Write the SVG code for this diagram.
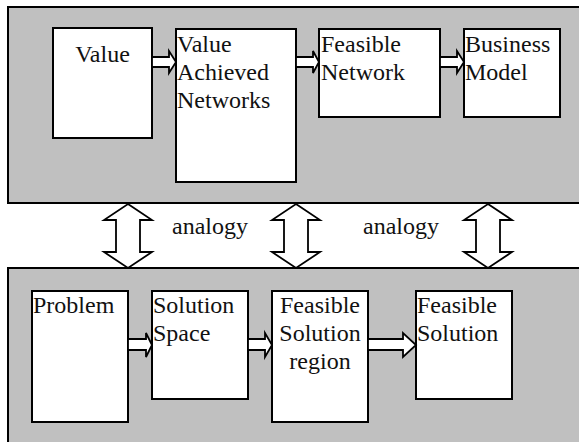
<svg xmlns="http://www.w3.org/2000/svg" width="579" height="442" viewBox="0 0 579 442">
  <rect width="579" height="442" fill="#fff"/>

  <!-- Upper band (business side) and lower band (problem-solving side) -->
  <g fill="#c0c0c0" stroke="#000" stroke-width="2">
    <rect x="8" y="7" width="580" height="196"/>
    <rect x="8" y="268" width="580" height="180"/>
  </g>

  <g id="value">
    <rect x="53" y="28" width="99" height="110" fill="#fff" stroke="#000" stroke-width="2"/>
    <text style="font-family: 'Liberation Serif', 'Times New Roman', serif !important; font-size: 24px; fill: #111" x="102.5" y="62" text-anchor="middle">Value</text>
  </g>
  <g id="value-achieved-networks">
    <rect x="176" y="29" width="120" height="153" fill="#fff" stroke="#000" stroke-width="2"/>
    <text style="font-family: 'Liberation Serif', 'Times New Roman', serif !important; font-size: 24px; fill: #111" x="177" y="52">Value</text>
    <text style="font-family: 'Liberation Serif', 'Times New Roman', serif !important; font-size: 24px; fill: #111" x="177" y="80">Achieved</text>
    <text style="font-family: 'Liberation Serif', 'Times New Roman', serif !important; font-size: 24px; fill: #111" x="177" y="108">Networks</text>
  </g>
  <g id="feasible-network">
    <rect x="319" y="29" width="121" height="88" fill="#fff" stroke="#000" stroke-width="2"/>
    <text style="font-family: 'Liberation Serif', 'Times New Roman', serif !important; font-size: 24px; fill: #111" x="321" y="52">Feasible</text>
    <text style="font-family: 'Liberation Serif', 'Times New Roman', serif !important; font-size: 24px; fill: #111" x="321" y="80">Network</text>
  </g>
  <g id="business-model">
    <rect x="464" y="29" width="96" height="88" fill="#fff" stroke="#000" stroke-width="2"/>
    <text style="font-family: 'Liberation Serif', 'Times New Roman', serif !important; font-size: 24px; fill: #111" x="465" y="52">Business</text>
    <text style="font-family: 'Liberation Serif', 'Times New Roman', serif !important; font-size: 24px; fill: #111" x="465" y="80">Model</text>
  </g>

  <g id="problem">
    <rect x="32" y="291" width="96" height="131" fill="#fff" stroke="#000" stroke-width="2"/>
    <text style="font-family: 'Liberation Serif', 'Times New Roman', serif !important; font-size: 24px; fill: #111" x="33" y="313">Problem</text>
  </g>
  <g id="solution-space">
    <rect x="152" y="291" width="96" height="108" fill="#fff" stroke="#000" stroke-width="2"/>
    <text style="font-family: 'Liberation Serif', 'Times New Roman', serif !important; font-size: 24px; fill: #111" x="153" y="313">Solution</text>
    <text style="font-family: 'Liberation Serif', 'Times New Roman', serif !important; font-size: 24px; fill: #111" x="153" y="341">Space</text>
  </g>
  <g id="feasible-solution-region">
    <rect x="272" y="291" width="96" height="131" fill="#fff" stroke="#000" stroke-width="2"/>
    <text style="font-family: 'Liberation Serif', 'Times New Roman', serif !important; font-size: 24px; fill: #111" x="320" y="313" text-anchor="middle">Feasible</text>
    <text style="font-family: 'Liberation Serif', 'Times New Roman', serif !important; font-size: 24px; fill: #111" x="320" y="341" text-anchor="middle">Solution</text>
    <text style="font-family: 'Liberation Serif', 'Times New Roman', serif !important; font-size: 24px; fill: #111" x="320" y="369" text-anchor="middle">region</text>
  </g>
  <g id="feasible-solution">
    <rect x="416" y="291" width="96" height="108" fill="#fff" stroke="#000" stroke-width="2"/>
    <text style="font-family: 'Liberation Serif', 'Times New Roman', serif !important; font-size: 24px; fill: #111" x="417" y="313">Feasible</text>
    <text style="font-family: 'Liberation Serif', 'Times New Roman', serif !important; font-size: 24px; fill: #111" x="417" y="341">Solution</text>
  </g>

  <g id="connectors">
    <g fill="#fff" stroke="#000" stroke-width="1.8">
      <!-- block arrows along the upper chain -->
      <polygon points="152,57 169,57 169,51 176,62 169,73 169,67 152,67"/>
      <polygon points="296,57 313,57 313,51 319,62 313,73 313,67 296,67"/>
      <polygon points="440,57 457,57 457,51 464,62 457,73 457,67 440,67"/>
      <!-- block arrows along the lower chain -->
      <polygon points="128,339 146,339 146,333 152,345 146,357 146,350 128,350"/>
      <polygon points="248,339 265,339 265,333 272,345 265,357 265,350 248,350"/>
      <polygon points="368,339 403,339 403,333 416,345 403,357 403,350 368,350"/>
      <!-- two-headed analogy arrows between the bands -->
      <polygon points="128,204 152,220 140,220 140,252 152,252 128,268 104,252 116,252 116,220 104,220"/>
      <polygon points="296,204 320,220 308,220 308,252 320,252 296,268 272,252 284,252 284,220 272,220"/>
      <polygon points="488,204 512,220 500,220 500,252 512,252 488,268 464,252 476,252 476,220 464,220"/>
    </g>
    <text style="font-family: 'Liberation Serif', 'Times New Roman', serif !important; font-size: 24px; fill: #111" x="172" y="234">analogy</text>
    <text style="font-family: 'Liberation Serif', 'Times New Roman', serif !important; font-size: 24px; fill: #111" x="363" y="234">analogy</text>
  </g>
</svg>
